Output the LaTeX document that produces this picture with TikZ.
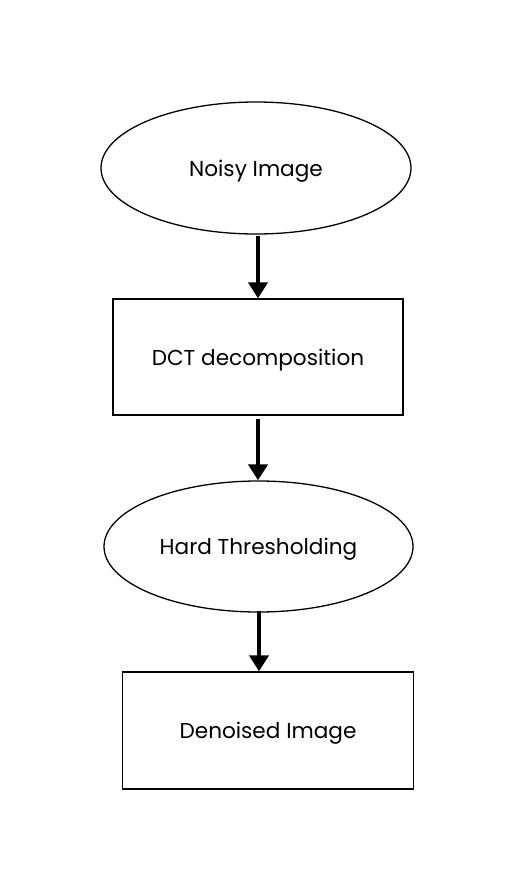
\documentclass[tikz,border=0pt]{standalone}
\usepackage{fontspec}
\setmainfont{Poppins}
\usetikzlibrary{shapes.geometric,arrows.meta}
\begin{document}
\begin{tikzpicture}[x=1pt,y=-1pt,
  every node/.style={font=\fontsize{21.6}{26}\selectfont, inner sep=0pt, text height=16pt, text depth=0pt},
  ovalbox/.style={ellipse, draw, line width=1.3pt},
  rectbox/.style={rectangle, draw, line width=1.3pt},
  flow/.style={line width=4pt, -{Triangle[width=19pt,length=16pt]}}]
\useasboundingbox (0,0) rectangle (515,891);
\node[ovalbox, minimum width=310, minimum height=132] (noisy) at (256,168) {Noisy Image};
\node[rectbox, minimum width=290, minimum height=116] (dct) at (258,357) {DCT decomposition};
\node[ovalbox, minimum width=309, minimum height=131] (hard) at (258.5,546.5) {Hard Thresholding};
\node[rectbox, minimum width=290.5, minimum height=117] (den) at (268,730.5) {Denoised Image};
\draw[flow] ([xshift=2pt,yshift=-1pt]noisy.south) -- ([xshift=2pt]noisy.south |- dct.north);
\draw[flow] ([yshift=-3pt]dct.south) -- (dct.south |- hard.north);
\draw[flow] ([xshift=0.5pt,yshift=2pt]hard.south) -- ([xshift=0.5pt]hard.south |- den.north);
\end{tikzpicture}
\end{document}
